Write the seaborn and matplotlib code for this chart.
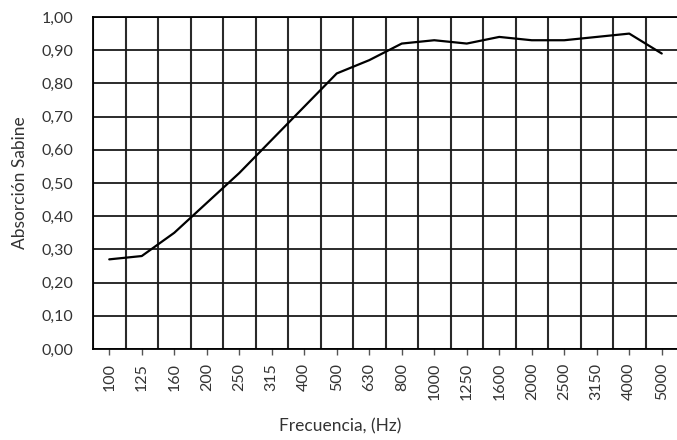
import numpy as np
import pandas as pd
import seaborn as sns
import matplotlib.pyplot as plt
from matplotlib.ticker import FuncFormatter

# datos
frecuencias = ["100", "125", "160", "200", "250", "315", "400", "500", "630",
               "800", "1000", "1250", "1600", "2000", "2500", "3150", "4000", "5000"]
absorcion = [0.27, 0.28, 0.35, 0.44, 0.53, 0.63, 0.73, 0.83, 0.87,
             0.92, 0.93, 0.92, 0.94, 0.93, 0.93, 0.94, 0.95, 0.89]
y_ticks = [0.0, 0.1, 0.2, 0.3, 0.4, 0.5, 0.6, 0.7, 0.8, 0.9, 1.0]

df = pd.DataFrame({
    "pos": np.arange(len(frecuencias)),
    "alpha": absorcion,
})

sns.set_theme(style="white")
plt.rcParams["font.family"] = ["Lato", "DejaVu Sans"]

text_color = "#333333"

fig = plt.figure(figsize=(6.77, 4.40), dpi=100)
W, H = 677, 440
ax = fig.add_axes([93 / W, (H - 349) / H, (678 - 93) / W, 332 / H])

sns.lineplot(data=df, x="pos", y="alpha", color="black", linewidth=1.6, ax=ax)

ax.set_xlim(-0.5, len(frecuencias) - 0.5)
ax.set_ylim(0, 1.0)

ax.set_xticks(df["pos"])
ax.set_xticklabels(frecuencias, rotation=90, fontsize=11.5, color=text_color)
ax.set_xticks(np.arange(-0.5, len(frecuencias), 1), minor=True)

ax.set_yticks(y_ticks)
ax.yaxis.set_major_formatter(FuncFormatter(lambda v, p: f"{v:.2f}".replace(".", ",")))
for lab in ax.get_yticklabels():
    lab.set_fontsize(11.5)
    lab.set_color(text_color)

ax.tick_params(axis="x", which="major", length=4, width=1, color="#555555",
               pad=6, bottom=True)
ax.tick_params(axis="x", which="minor", length=0)
ax.tick_params(axis="y", length=0, pad=14)

ax.grid(False)
ax.grid(True, axis="y", which="major", color="#1a1a1a", linewidth=1.3)
ax.grid(True, axis="x", which="minor", color="#2a2a2a", linewidth=1.5)
ax.set_axisbelow(True)

for s in ax.spines.values():
    s.set_color("black")
    s.set_linewidth(1.3)

ax.set_xlabel("Frecuencia, (Hz)", fontsize=12.5, color=text_color)
ax.xaxis.set_label_coords((340 - 93) / 585, (349 - 418) / 332)
ax.set_ylabel("Absorción Sabine", fontsize=12.5, color=text_color)
ax.yaxis.set_label_coords((28 - 93) / 585, 0.5)

fig.savefig("out.png", dpi=100)
plt.close(fig)
